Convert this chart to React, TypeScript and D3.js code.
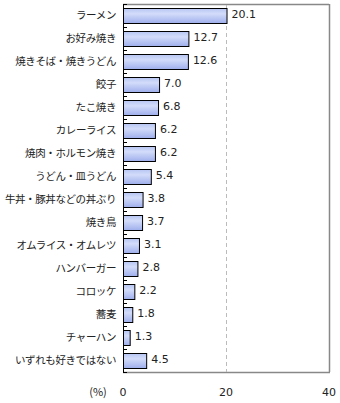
import React from "react";
import * as d3 from "d3";

const categories = [
  "ラーメン",
  "お好み焼き",
  "焼きそば・焼きうどん",
  "餃子",
  "たこ焼き",
  "カレーライス",
  "焼肉・ホルモン焼き",
  "うどん・皿うどん",
  "牛丼・豚丼などの丼ぶり",
  "焼き鳥",
  "オムライス・オムレツ",
  "ハンバーガー",
  "コロッケ",
  "蕎麦",
  "チャーハン",
  "いずれも好きではない",
];
const values = [20.1, 12.7, 12.6, 7.0, 6.8, 6.2, 6.2, 5.4, 3.8, 3.7, 3.1, 2.8, 2.2, 1.8, 1.3, 4.5];
const xTicks = [0, 20, 40];
const unitLabel = "(%)";

export default function App() {
  const W = 340, H = 403;
  const left = 123, right = 329, top = 4, bottom = 372;
  const x = d3.scaleLinear().domain([0, 40]).range([left, right]);
  const y = d3.scaleBand<string>().domain(categories).range([top, bottom]).paddingInner(0.36).paddingOuter(0.18);
  const band = d3.scaleBand<string>().domain(categories).range([top, bottom]);
  const font = "'Noto Sans CJK JP', sans-serif";
  const numFont = "'DejaVu Sans', sans-serif";
  return (
    <svg width={W} height={H} style={{ position: "absolute", left: 0, top: 0, background: "#fff" }}>
      <defs>
        <linearGradient id="barg" x1="0" y1="0" x2="0" y2="1">
          <stop offset="0%" stopColor="#b7c5f3" />
          <stop offset="35%" stopColor="#d3dcfa" />
          <stop offset="100%" stopColor="#9eaeec" />
        </linearGradient>
      </defs>
      {/* frame */}
      <line x1={left} x2={right} y1={top + 0.5} y2={top + 0.5} stroke="#888" strokeWidth={1.5} />
      <line x1={right + 0.5} x2={right + 0.5} y1={top} y2={bottom} stroke="#888" strokeWidth={1.5} />
      <line x1={left} x2={right + 1} y1={bottom + 0.5} y2={bottom + 0.5} stroke="#888" strokeWidth={1.5} />
      {xTicks.slice(1, -1).map((t) => (
        <line key={t} x1={x(t) + 0.5} x2={x(t) + 0.5} y1={top + 1} y2={bottom} stroke="#bbb" strokeDasharray="4,3" />
      ))}
      {/* bars */}
      {categories.map((c, i) => (
        <g key={c}>
          <rect
            x={x(0) + 0.5}
            y={Math.round(y(c)!) + 0.5}
            width={x(values[i]) - x(0)}
            height={Math.round(y.bandwidth())}
            fill="url(#barg)"
            stroke="#000"
            strokeWidth={1}
          />
          <text
            x={x(values[i]) + 5}
            y={y(c)! + y.bandwidth() / 2 - 1}
            dy="0.35em"
            fontSize={11}
            fontFamily={numFont}
            fill="#222"
          >
            {values[i].toFixed(1)}
          </text>
          <text
            x={left - 7}
            y={band(c)! + band.bandwidth() / 2}
            dy="0.35em"
            fontSize={10.5}
            letterSpacing={-0.4}
            fontFamily={font}
            textAnchor="end"
            fill="#222"
          >
            {c}
          </text>
        </g>
      ))}
      {/* y axis */}
      <line x1={left + 0.5} x2={left + 0.5} y1={top} y2={bottom + 1} stroke="#000" strokeWidth={1} />
      {categories.map((c) => (
        <line key={"t" + c} x1={left} x2={left + 4} y1={Math.round(band(c)!) + 0.5} y2={Math.round(band(c)!) + 0.5} stroke="#000" />
      ))}
      <line x1={left} x2={left + 4} y1={bottom + 0.5} y2={bottom + 0.5} stroke="#000" />
      {/* x tick labels */}
      {xTicks.map((t) => (
        <text key={t} x={x(t)} y={392} dy="0.35em" fontSize={11} fontFamily={numFont} textAnchor="middle" fill="#222">
          {t}
        </text>
      ))}
      <text x={98} y={392} dy="0.35em" fontSize={11} fontFamily={font} textAnchor="middle" fill="#222">
        {unitLabel}
      </text>
    </svg>
  );
}
